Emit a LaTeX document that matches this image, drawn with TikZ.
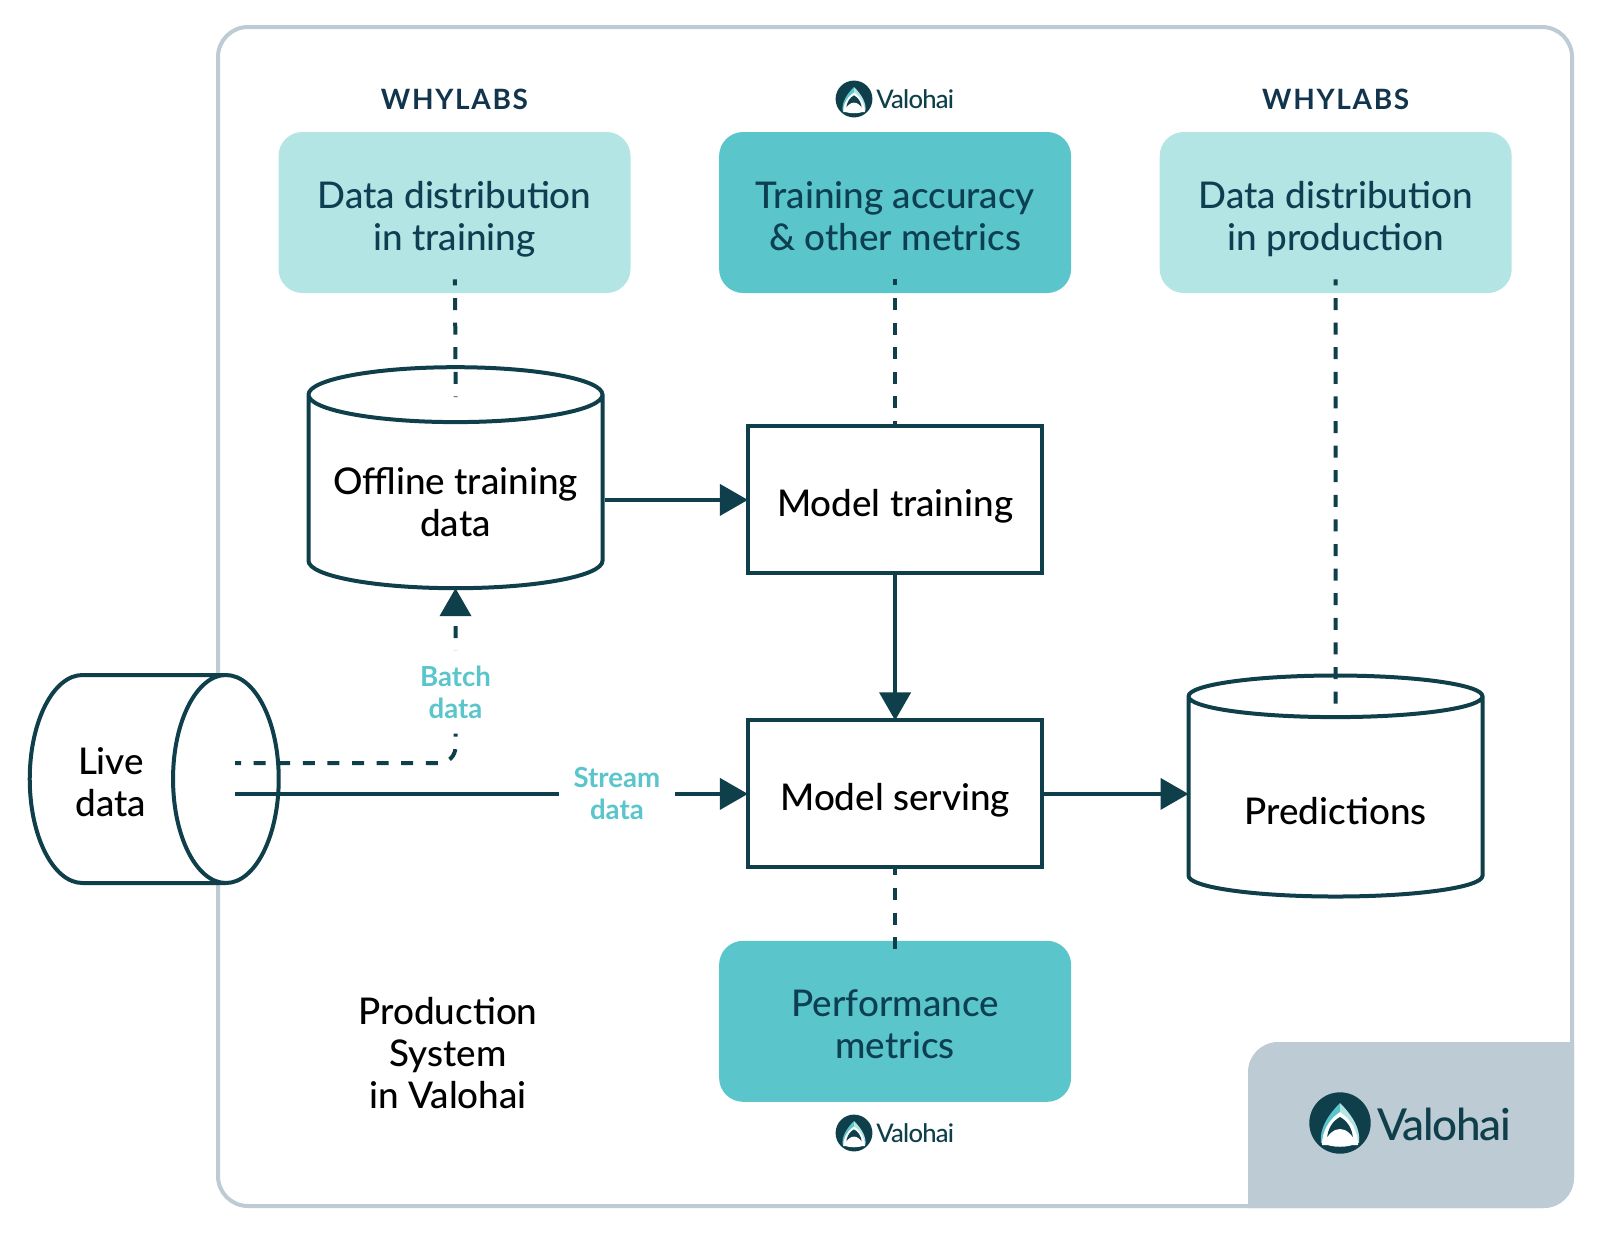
\documentclass[tikz,border=0pt]{standalone}
\usepackage{fontspec}
\setmainfont{Lato Medium}
\newfontfamily\logofont[LetterSpace=6]{Lato}
\newfontfamily\brandfont[LetterSpace=-3]{Lato Medium}
\newfontfamily\flowfont{Lato Bold}
\usetikzlibrary{arrows.meta,calc,positioning,shapes.geometric}

\definecolor{inkteal}{HTML}{0E3F4A}
\definecolor{titleink}{HTML}{0D3F52}
\definecolor{whyink}{HTML}{12344D}
\definecolor{lightbox}{HTML}{B2E5E3}
\definecolor{midbox}{HTML}{5AC5CB}
\definecolor{frameblue}{HTML}{BDCBD5}

\newcommand{\lift}[1]{\rule{0pt}{#1}}

\tikzset{
	bodytext/.style={align=center,font=\fontsize{18.4}{21}\selectfont},
	metricbox/.style={bodytext,rectangle,rounded corners=12pt,minimum width=176pt,minimum height=80.5pt,text=titleink,execute at begin node={\lift{43.8pt}},execute at end node=\strut},
	stepbox/.style={bodytext,draw=inkteal,line width=2pt,rectangle,minimum width=147.2pt,minimum height=73.5pt,text=black,execute at begin node={\lift{22.5pt}},execute at end node=\strut},
	store/.style={bodytext,draw=inkteal,line width=2pt,cylinder,shape border rotate=90,aspect=0.213,minimum width=147pt,minimum height=110.5pt,text=black},
	flowlabel/.style={fill=white,text=midbox,align=center,inner sep=7.5pt,font=\flowfont\fontsize{13.8}{16}\selectfont},
	solidflow/.style={draw=inkteal,line width=2pt,shorten >=-1pt},
	dashflow/.style={draw=inkteal,line width=2pt,dash pattern=on 6pt off 6.3pt,dash phase=3pt},
	whylogo/.style={text=whyink,font=\logofont\bfseries\fontsize{14}{14}\selectfont},
	valotext/.style={text=inkteal,inner sep=0pt},
	pics/valohai/.style={code={
		\fill[inkteal] (0,0) circle (30.7);
		\fill[midbox] (0,-20) .. controls (-12,-8) and (-21,6) .. (-19,20) -- (0,20) -- cycle;
		\fill[lightbox] (0,-20) .. controls (12,-8) and (21,6) .. (19,20) -- (0,20) -- cycle;
		\fill[white] (-18,22) .. controls (-18,6) and (-9,-5) .. (0,-11) .. controls (9,-5) and (18,6) .. (18,22) -- cycle;
		\fill[inkteal] (-13,17) .. controls (-13,5) and (-6,-3) .. (0,-6) .. controls (6,-3) and (13,5) .. (13,17) -- cycle;
		\fill[white] (-16,20) .. controls (-12,11) and (-6,6) .. (0,6) .. controls (6,6) and (12,11) .. (16,20) .. controls (10,25) and (-10,25) .. (-16,20) -- cycle;
	}}
}

\begin{document}
\begin{tikzpicture}[x=0.5pt,y=-0.5pt,>={Triangle[length=14pt,width=15.5pt]}]
	\useasboundingbox (0,0) rectangle (1600,1233);

	\draw[frameblue,line width=2pt,rounded corners=15pt] (218,27) rectangle (1572,1206);
	\fill[frameblue] (1248,1208) [rounded corners=15pt] -- (1248,1042) [sharp corners] -- (1574,1042) [rounded corners=15pt] -- (1574,1208) [sharp corners] -- cycle;

	% top row
	\node[metricbox,fill=lightbox] (disttrain) at (454.5,212.5) {Data distribution\\in training};
	\node[metricbox,fill=midbox,right=43.9pt of disttrain,execute at begin node={\lift{39.8pt}}] (accuracy) {Training accuracy\\\& other metrics};
	\node[metricbox,fill=lightbox,right=43.9pt of accuracy] (distprod) {Data distribution\\in production};

	\node[whylogo,above=7.5pt of disttrain] (whyleft) {WHYLABS};
	\node[whylogo,above=7.5pt of distprod] (whyright) {WHYLABS};

	% middle
	\node[store] (offline) at (455.5,496.5) {\lift{19.1pt}Offline training\\data};
	\node[stepbox,below=65.5pt of accuracy] (training) {Model training};
	\node[stepbox,below=71.5pt of training] (serving) {Model serving};
	\node[store] (predictions) at (1335.5,800.5) {\lift{24.3pt}Predictions};
	\node[bodytext,draw=inkteal,line width=2pt,cylinder,aspect=1.19,minimum width=104pt,minimum height=124.5pt,fill=white] (live) at (117.5,779) {\lift{16.6pt}Live\hspace*{6.5pt}\\data\hspace*{6.5pt}};

	% bottom
	\node[metricbox,fill=midbox,below=35.5pt of serving,execute at begin node={\lift{36.2pt}}] (performance) {Performance\\metrics};
	\node[bodytext] (system) at (448,1053) {Production\\System\\in Valohai};

	\coordinate (streamstart) at (235,794);
	\coordinate (batchstart) at (235,763);

	\draw[->,solidflow] (offline.east |- training) -- (training);
	\draw[->,solidflow] (training) -- (serving);
	\draw[->,solidflow] (serving) -- (serving -| predictions.west);
	\draw[->,solidflow] (streamstart |- serving) -- node[flowlabel,pos=0.7475] (stream) {Stream\\data} (serving.west);
	\draw[->,dashflow,rounded corners=8pt,shorten >=-1pt] (batchstart) -| node[flowlabel,pos=0.705] (batch) {Batch\\data} (offline.south);

	\draw[dashflow,shorten <=-7pt,shorten >=-16pt] (disttrain) -- (offline.north);
	\draw[dashflow,shorten <=-7pt] (accuracy) -- (training);
	\draw[dashflow,shorten <=-7pt,shorten >=-16pt] (distprod) -- (predictions.north);
	\draw[dashflow,shorten >=-9.5pt] (serving) -- (performance);

	% logos
	\node[valotext,font=\brandfont\fontsize{22}{22}\selectfont,anchor=west] (brand) at (1377,1124) {Valohai};
	\pic at (1340,1123) {valohai};
	\node[valotext,font=\brandfont\fontsize{12.8}{13}\selectfont,anchor=west] (brandtop) at (876,99) {Valohai};
	\pic[scale=0.6] at (854,99) {valohai};
	\node[valotext,font=\brandfont\fontsize{12.8}{13}\selectfont,anchor=west] (brandlow) at (876,1133) {Valohai};
	\pic[scale=0.6] at (854,1133) {valohai};
\end{tikzpicture}
\end{document}
